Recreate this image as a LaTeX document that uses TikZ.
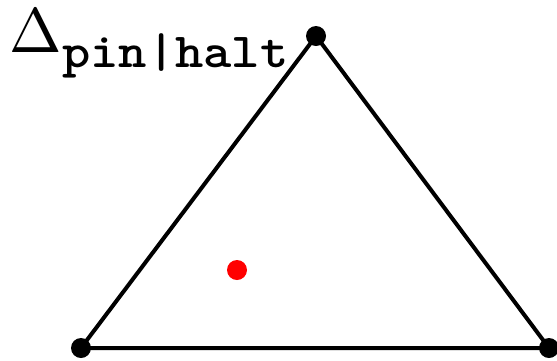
\documentclass[tikz,border=0pt]{standalone}
\usetikzlibrary{positioning}

\begin{document}
\begin{tikzpicture}[
        x=1pt, y=-1pt,
        vertex/.style={circle, fill=black, inner sep=0pt, minimum size=20pt},
        point/.style={circle, fill=red, inner sep=0pt, minimum size=20pt},
        edge/.style={line width=4pt, line join=miter}
    ]
        \useasboundingbox (0,0) rectangle (557,360);

        % corners of the simplex
        \node[vertex] (pin) at (316,36) {};
        \node[vertex] (left) at (81,348) {};
        \node[vertex] (right) at (549,348) {};
        \draw[edge] (pin.center) -- (left.center) -- (right.center) -- cycle;

        % belief point
        \node[point] (belief) at (237,270) {};

        % label
        \node[anchor=base west, inner sep=0pt] (label) at (9.5,52)
            {\scalebox{6.3}{$\Delta$}\raisebox{-15pt}{\scalebox{1.1}[1]{\fontsize{49}{49}\selectfont\ttfamily\bfseries pin|halt}}};
    \end{tikzpicture}
\end{document}
